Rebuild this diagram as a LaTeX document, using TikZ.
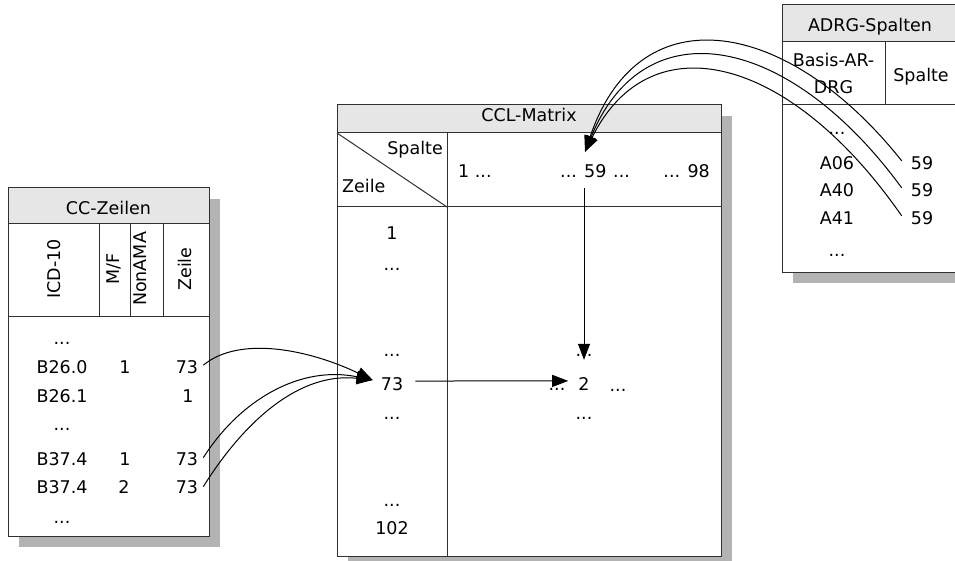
\documentclass[tikz,border=0pt]{standalone}
\usepackage{fontspec}
\setmainfont{DejaVu Sans}
\usetikzlibrary{arrows.meta}
\definecolor{shadowgray}{HTML}{B3B3B3}
\definecolor{headgray}{HTML}{E6E6E6}
\definecolor{linegray}{HTML}{303030}
\tikzset{
  shadowfill/.style={fill=shadowgray, draw=none},
  boxframe/.style={draw=linegray, line width=1pt, fill=white},
  headfill/.style={draw=linegray, line width=1pt, fill=headgray},
  rule/.style={draw=linegray, line width=1pt},
  txt/.style={inner sep=0pt, anchor=base},
  txtw/.style={inner sep=0pt, anchor=base west},
  txte/.style={inner sep=0pt, anchor=base east},
  rot/.style={inner sep=0pt, anchor=center, rotate=90},
  arr/.style={-{Triangle[length=16pt,width=12pt]}, line width=1pt, black},
}
\begin{document}
\begin{tikzpicture}[x=1pt,y=-1pt, font=\fontsize{17.5}{21}\selectfont]
\useasboundingbox (0,0) rectangle (955,561);
% ---------- shadows
\fill[shadowfill] (19,199) rectangle (220,547);
\fill[shadowfill] (348,116) rectangle (732,570);
\fill[shadowfill] (793,16) rectangle (980,283);
% ---------- CC-Zeilen table
\filldraw[boxframe] (8,188) rectangle (209,536);
\filldraw[headfill] (8,188) rectangle (209,224);
\draw[rule] (8,316) -- (209,316);
\draw[rule] (99,224) -- (99,316);
\draw[rule] (130,224) -- (130,316);
\draw[rule] (163,224) -- (163,316);
\node[txt] (cct) at (108.5,215) {CC-Zeilen};
\node[rot] (cicd) at (54,269) {ICD-10};
\node[rot] (cmf) at (114,269) {M/F};
\node[rot] (cnon) at (140,269) {NonAMA};
\node[rot] (czei) at (185,269) {Zeile};
\node[txt] (cd1) at (62,344) {...};
\node[txt] (cb1) at (62,373) {B26.0};
\node[txt] (cm1) at (125,373) {1};
\node[txt] (cz1) at (187,373) {73};
\node[txt] (cb2) at (62,402) {B26.1};
\node[txt] (cz2) at (188,402) {1};
\node[txt] (cd2) at (62,430) {...};
\node[txt] (cb3) at (62,465) {B37.4};
\node[txt] (cm3) at (125,465) {1};
\node[txt] (cz3) at (187,465) {73};
\node[txt] (cb4) at (62,493) {B37.4};
\node[txt] (cm4) at (124,493) {2};
\node[txt] (cz4) at (187,493) {73};
\node[txt] (cd3) at (62,523) {...};
% ---------- CCL-Matrix table
\filldraw[boxframe] (337,105) rectangle (721,556);
\filldraw[headfill] (337,105) rectangle (721,133);
\draw[rule] (337,207) -- (721,207);
\draw[rule] (447,133) -- (447,556);
\draw[rule] (337,133) -- (447,207);
\node[txt] (mt) at (529,122) {CCL-Matrix};
\node[txte] (msp) at (443,155) {Spalte};
\node[txtw] (mze) at (342,193) {Zeile};
\node[txtw] (h1) at (458,178) {1 ...};
\node[txtw] (hda) at (560,178) {...};
\node[txtw] (h59) at (584,178) {59};
\node[txtw] (hdb) at (613,178) {...};
\node[txte] (h98) at (710,178) {... 98};
\node[txt] (r1) at (392,240) {1};
\node[txt] (rd1) at (392,270) {...};
\node[txt] (rd2) at (392,356) {...};
\node[txt] (m73) at (392,390) {73};
\node[txt] (rd3) at (392,419) {...};
\node[txt] (rd4) at (392,506) {...};
\node[txt] (r102) at (392,534) {102};
\node[txt] (vd1) at (584,356) {...};
\node[txt] (vdl) at (557,390) {...};
\node[txt] (n2) at (584,390) {2};
\node[txt] (vdr) at (618,391) {...};
\node[txt] (vd2) at (584,419) {...};
% ---------- ADRG-Spalten table
\filldraw[boxframe] (782,5) rectangle (970,272);
\filldraw[headfill] (782,5) rectangle (970,42);
\draw[rule] (782,105) -- (970,105);
\draw[rule] (885,42) -- (885,105);
\node[txt] (at) at (870,32) {ADRG-Spalten};
\node[txt] (ab1) at (833.5,67) {Basis-AR-};
\node[txt] (ab2) at (833.5,94) {DRG};
\node[txt] (asp) at (921,82) {Spalte};
\node[txt] (ad1) at (837,135) {...};
\node[txt] (aa1) at (837,170) {A06};
\node[txt] (aa2) at (837,197) {A40};
\node[txt] (aa3) at (837,225) {A41};
\node[txt] (ad2) at (837,257) {...};
\node[txt] (a59a) at (922,170) {59};
\node[txt] (a59b) at (922,197) {59};
\node[txt] (a59c) at (922,225) {59};
% ---------- connectors
\draw[arr] ([xshift=5pt,yshift=1.5pt]cz1.east) .. controls (240,335) and (310,350) .. ([xshift=-8pt,yshift=3.6pt]m73.west);
\draw[arr] ([xshift=5pt,yshift=1pt]cz3.east) .. controls (240,400) and (300,365) .. ([xshift=-8pt,yshift=3.6pt]m73.west);
\draw[arr] ([xshift=5pt,yshift=0pt]cz4.east) .. controls (245,420) and (300,372) .. ([xshift=-8pt,yshift=3.6pt]m73.west);
\draw[arr] ([xshift=12pt,yshift=2.6pt]m73.east) -- ([xshift=-10pt,yshift=2.6pt]n2.west);
\draw[arr] ([yshift=-10pt]h59.south west) -- ([yshift=17pt]n2.north);
\draw[arr] ([xshift=-9pt,yshift=-4pt]a59a.north west) .. controls (790,20) and (640,-10) .. ([xshift=1pt,yshift=13pt]h59.north west);
\draw[arr] ([xshift=-9pt,yshift=-4pt]a59b.north west) .. controls (790,35) and (645,5) .. ([xshift=1pt,yshift=13pt]h59.north west);
\draw[arr] ([xshift=-9pt,yshift=-4pt]a59c.north west) .. controls (790,55) and (650,20) .. ([xshift=1pt,yshift=13pt]h59.north west);
\end{tikzpicture}
\end{document}
